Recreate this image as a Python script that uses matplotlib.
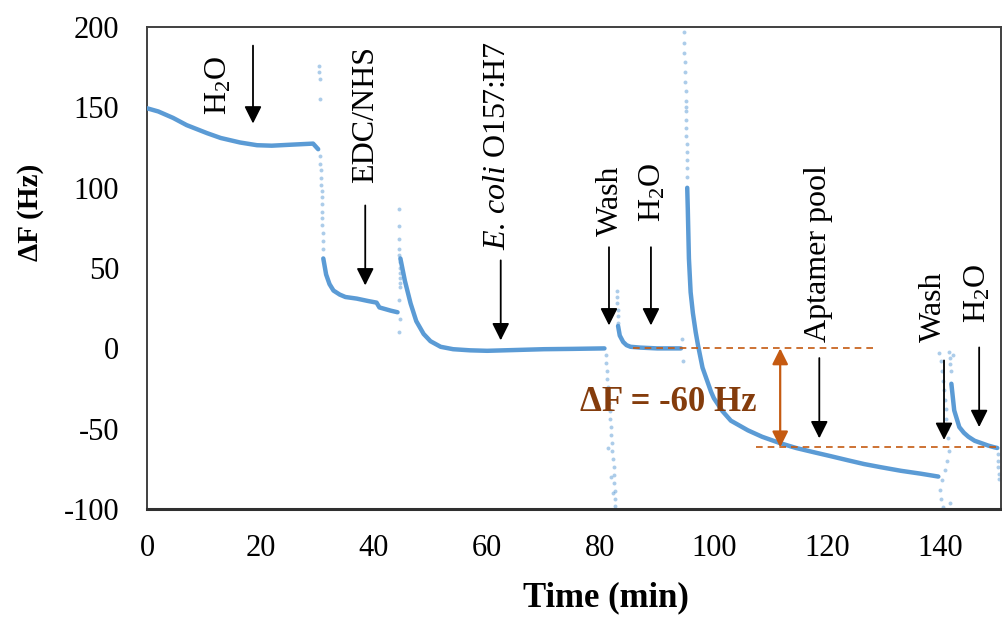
import matplotlib
matplotlib.use("Agg")
import matplotlib.pyplot as plt

plt.rcParams['font.family'] = ['Liberation Serif', 'DejaVu Serif']
plt.rcParams['mathtext.fontset'] = 'custom'
plt.rcParams['mathtext.rm'] = 'Liberation Serif'
plt.rcParams['mathtext.it'] = 'Liberation Serif:italic'
plt.rcParams['mathtext.bf'] = 'Liberation Serif:bold'
plt.rcParams['axes.unicode_minus'] = False

# -------------------------
# QCM trace (time in min, frequency shift in Hz)
# -------------------------

# baseline in water
seg1_t = [0, 2, 4.6, 7, 10.6, 13, 16.4, 19.4, 22, 25.3, 29.3, 30.2]
seg1_f = [149.5, 147.5, 143.5, 139, 134, 131, 128.2, 126.5, 126.2, 126.8, 127.5, 124]

# EDC/NHS activation
seg2_t = [31.1, 31.6, 32.2, 32.9, 34, 35, 37, 39, 40.5, 41, 42, 43, 44.2]
seg2_f = [56, 46, 40, 36, 33.5, 32, 31, 29.5, 28.5, 25.5, 24.5, 23.5, 22.5]

# E. coli O157:H7 immobilisation
seg3_t = [44.7, 45.5, 46.5, 47.5, 48.8, 50, 51.8, 54, 57, 60, 65, 70, 75, 80.7]
seg3_f = [56, 42, 28, 17, 9, 4.5, 1, -0.5, -1.2, -1.5, -1, -0.5, -0.3, 0]

# wash + water
seg4_t = [83.1, 83.4, 84, 84.6, 85.3, 87, 90, 94.2]
seg4_f = [14, 8, 4, 2, 1, 0.5, 0, 0]

# aptamer pool binding
seg5_t = [95.3, 95.4, 95.6, 95.9, 96.3, 96.8, 97.2, 98, 99.5, 100, 101.5, 103,
          106, 108.5, 111.7, 114.5, 117.7, 120.5, 123.7, 126.5, 129.5, 133,
          136.5, 139.6]
seg5_f = [100, 87, 56, 35, 22, 10, 2, -12, -27, -31, -39, -45,
          -51, -55, -59, -62, -64.7, -67, -69.7, -72, -74, -76.2,
          -78, -79.8]

# final wash + water
seg6_t = [141.9, 142.4, 143.3, 144.1, 144.9, 146, 147.2, 148.4, 149.5, 150.0]
seg6_f = [-22, -38.6, -49, -52.5, -55, -57.5, -59, -60.5, -61.6, -62]

# injection transients (scattered points)
spike_t = [30.3, 30.4, 30.5, 30.5, 30.6, 30.6, 30.7, 30.7, 30.7, 30.8, 30.8,
           30.8, 30.9, 30.9, 30.9, 31.0, 31.0, 31.0,
           44.4, 44.4, 44.5, 44.5, 44.5, 44.6, 44.6, 44.6, 44.7, 44.7, 44.7,
           44.5, 44.6, 44.4,
           80.9, 81.0, 81.1, 81.2, 81.3, 81.4, 81.5, 81.6, 81.7, 81.8, 81.9,
           82.0, 82.1, 82.2, 82.3, 82.4, 82.4, 82.5, 82.5, 82.6,
           81.4, 81.8, 82.2, 82.9, 83.0, 83.0, 83.1, 83.1, 83.1,
           94.7, 94.75, 94.8, 94.85, 94.9, 94.95, 95.0, 95.0, 95.05, 95.1,
           95.1, 95.15, 95.2, 95.2, 95.25, 95.3, 95.3, 95.0, 94.5, 94.3,
           139.8, 139.9, 140.0, 140.1, 140.2, 140.3, 140.4, 140.5, 140.6,
           140.7, 140.8, 140.9, 141.0, 141.1, 141.2, 141.3, 141.4, 141.5,
           141.6, 141.7, 141.8, 141.7, 142.2,
           150.1, 150.2, 150.2, 150.3, 150.3]
spike_f = [176, 172, 168, 155, 120, 115, 111, 106, 102, 98, 94,
           90, 85, 81, 77, 72, 67, 62,
           87, 76, 68, 62, 58, 54, 50, 47, 44, 41, 38,
           30, 18, 10,
           -4, -9, -14, -19, -24, -29, -34, -39, -44, -49, -54,
           -59, -64, -69, -74, -79, -84, -89, -94, -98,
           -62, -80, -90, 36, 32, 28, 24, 20, 16,
           197, 190, 184, 178, 172, 166, 160, 154, 148, 142,
           137, 132, 127, 122, 117, 112, 107, 150, -8, 6,
           -3, -88, -8, -94, -14, -82, -20, -99, -26, -32, -76, -38,
           -44, -70, -50, -56, -64, -2, -6, -10, -14, -96, -4,
           -66, -70, -74, -78, -81]

# event markers: label, arrow time, arrow start, arrow tip, text time, text base
events = ['H$_2$O', 'EDC/NHS', r'$\mathit{E.\,coli}$ O157:H7', 'Wash', 'H$_2$O',
          'Aptamer pool', 'Wash', 'H$_2$O']
arrow_t = [18.7, 38.5, 62.4, 81.5, 88.9, 118.6, 140.6, 146.8]
arrow_top = [188.5, 89, 54.8, 63, 63, -6, -7.5, 0.6]
arrow_tip = [140, 39.2, 5, 14.3, 14.3, -56, -57, -49]
text_t = [12.6, 38.5, 61.8, 81.8, 89.2, 118.4, 138.7, 146.6]
text_f = [145, 102.7, 61, 70, 78.4, 3.7, 3.7, 15.6]

# response reference levels
level_before = 0
level_after = -61.6
delta_label = '\u0394F = -60 Hz'

blue = '#5B9BD5'
orange = '#C55A11'

fig = plt.figure(figsize=(10.02, 6.17), dpi=100)
ax = fig.add_axes([0.1467, 0.175, 0.852, 0.781])

for t, f in [(seg1_t, seg1_f), (seg2_t, seg2_f), (seg3_t, seg3_f),
             (seg4_t, seg4_f), (seg5_t, seg5_f), (seg6_t, seg6_f)]:
    ax.plot(t, f, color=blue, lw=3.2, solid_capstyle='round', zorder=3)
ax.scatter(spike_t, spike_f, s=8, color=blue, alpha=0.5, lw=0, zorder=2)

# reference levels and response span
ax.plot([85.7, 129], [level_before, level_before], color=orange, lw=1.2,
        dashes=(4, 3), zorder=4)
ax.plot([107.4, 151], [level_after, level_after], color=orange, lw=1.2,
        dashes=(4, 3), zorder=4)
ax.annotate('', xy=(111.7, level_after), xytext=(111.7, level_before),
            arrowprops=dict(arrowstyle='<|-|>', color=orange, lw=1.6,
                            mutation_scale=24, shrinkA=0, shrinkB=0), zorder=5)
ax.text(91.9, -33.6, delta_label, fontsize=25, fontweight='bold',
        color='#843C0C', ha='center', va='center', zorder=6)

for lab, at, a0, a1, tt, tf in zip(events, arrow_t, arrow_top, arrow_tip,
                                    text_t, text_f):
    ax.annotate('', xy=(at, a1), xytext=(at, a0),
                arrowprops=dict(arrowstyle='-|>', color='black', lw=1.3,
                                mutation_scale=26, shrinkA=0, shrinkB=0),
                zorder=6)
    ax.text(tt, tf, lab, rotation=90, fontsize=23, ha='center', va='bottom',
            zorder=6)

ax.set_xlim(0, 150.6)
ax.set_ylim(-100, 200)
ax.set_xticks(range(0, 141, 20))
ax.set_yticks(range(-100, 201, 50))
ax.tick_params(length=0, labelsize=22)
ax.tick_params(axis='y', pad=20)
ax.tick_params(axis='x', pad=18)
for side in ['left', 'top', 'right']:
    ax.spines[side].set_color('#404040')
    ax.spines[side].set_linewidth(1.4)
ax.spines['bottom'].set_color('#303030')
ax.spines['bottom'].set_linewidth(2.2)

fig.text(0.605, 0.031, 'Time (min)', fontsize=25, fontweight='bold',
         ha='center', va='center')
fig.text(0.030, 0.656, '\u0394F (Hz)', fontsize=21, fontweight='bold',
         rotation=90, ha='center', va='center')

fig.savefig('out.png', dpi=100)
